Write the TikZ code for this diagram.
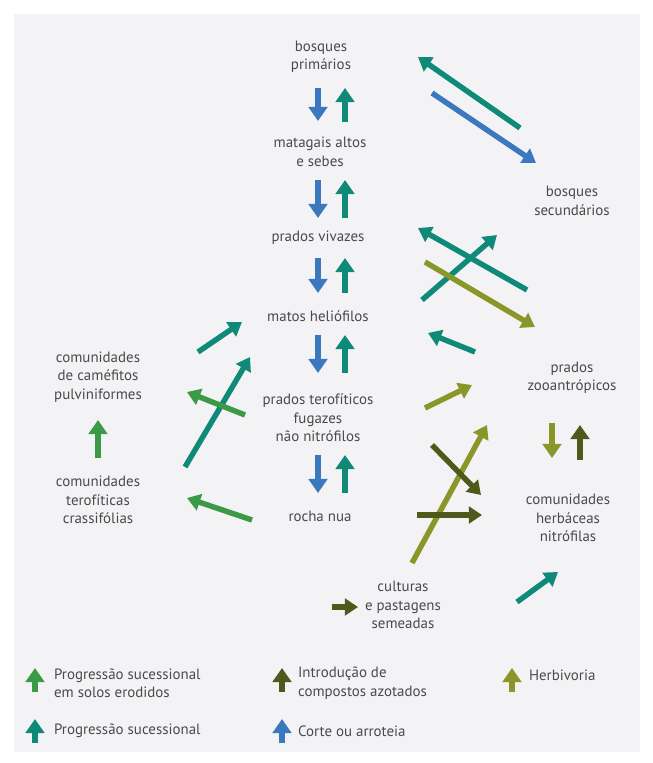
\documentclass[tikz,border=0pt]{standalone}
\usepackage{fontspec}
\setmainfont{PT Sans}
\usepackage{tikz}
\usetikzlibrary{arrows.meta,positioning,calc}
\usepackage{xcolor}
\definecolor{Teal}{HTML}{0F8A78}
\definecolor{Erod}{HTML}{3A9A45}
\definecolor{Azot}{HTML}{4E5A1C}
\definecolor{Herb}{HTML}{8A9628}
\definecolor{Corte}{HTML}{3C78BE}
\definecolor{Ink}{HTML}{4A4A4A}
\definecolor{Paper}{HTML}{F3F3F6}
\tikzset{
  habitat/.style={align=center, text=Ink, inner sep=1pt,
    font=\fontsize{8.5}{10.5}\selectfont},
  legtxt/.style={align=left, anchor=west, text=Ink, inner sep=1pt,
    font=\fontsize{8.5}{10.5}\selectfont},
  seta/.style={-{Triangle[length=7.5pt,width=9.5pt]}, line width=3.1pt, draw=#1},
  curta/.style={-{Triangle[length=8pt,width=10.5pt]}, line width=3.6pt, draw=#1},
}

\begin{document}
\begin{tikzpicture}[x=0.02cm,y=-0.02cm]
  \useasboundingbox (0,0) rectangle (652,763);
  \fill[Paper] (14,14) rectangle (640,752);

  % central series
  \node[habitat] (bp) at (321,57) {bosques\\primários};
  \node[habitat] (ma) at (320,152) {matagais altos\\e sebes};
  \node[habitat] (pv) at (318,238) {prados vivazes};
  \node[habitat] (mh) at (318,316) {matos heliófilos};
  \node[habitat] (pt) at (318,418) {prados terofíticos\\fugazes\\não nitrófilos};
  \node[habitat] (rn) at (320,516) {rocha nua};

  % right column
  \node[habitat] (bs) at (572,201) {bosques\\secundários};
  \node[habitat] (pz) at (572,378) {prados\\zooantrópicos};
  \node[habitat] (hn) at (568,518) {comunidades\\herbáceas\\nitrófilas};
  \node[habitat] (cp) at (403,605) {culturas\\e pastagens\\semeadas};

  % left column
  \node[habitat] (cc) at (98,377) {comunidades\\de caméfitos\\pulviniformes};
  \node[habitat] (ct) at (98,500) {comunidades\\terofíticas\\crassifólias};

  % vertical pairs
  \draw[curta=Corte] (318,88) -- (318,121);
  \draw[curta=Teal] (345,122) -- (345,88);
  \draw[curta=Corte] (318,180) -- (318,218);
  \draw[curta=Teal] (345,218) -- (345,180);
  \draw[curta=Corte] (318,258) -- (318,293);
  \draw[curta=Teal] (345,293) -- (345,258);
  \draw[curta=Corte] (318,335) -- (318,373);
  \draw[curta=Teal] (345,373) -- (345,335);
  \draw[curta=Corte] (318,455) -- (318,493);
  \draw[curta=Teal] (345,493) -- (345,455);
  \draw[curta=Herb] (552,423) -- (552,458);
  \draw[curta=Azot] (580,460) -- (580,425);
  \draw[curta=Erod] (98,458) -- (98,420);

  % diagonal connectors
  \coordinate (a1) at (520,128); \coordinate (b1) at (418,57);
  \coordinate (a2) at (432,93);  \coordinate (b2) at (536,163);
  \coordinate (a3) at (527,290); \coordinate (b3) at (418,228);
  \coordinate (a4) at (422,300); \coordinate (b4) at (497,235);
  \coordinate (a5) at (425,262); \coordinate (b5) at (535,327);
  \coordinate (a6) at (475,352); \coordinate (b6) at (428,333);
  \coordinate (a7) at (425,408); \coordinate (b7) at (472,385);
  \coordinate (a8) at (412,563); \coordinate (b8) at (487,425);
  \coordinate (a9) at (432,445); \coordinate (b9) at (481,495);
  \coordinate (a10) at (417,515); \coordinate (b10) at (482,515);
  \coordinate (a11) at (332,607); \coordinate (b11) at (358,607);
  \coordinate (a12) at (517,602); \coordinate (b12) at (558,572);
  \coordinate (a13) at (198,352); \coordinate (b13) at (242,322);
  \coordinate (a14) at (185,467); \coordinate (b14) at (250,357);
  \coordinate (a15) at (245,415); \coordinate (b15) at (187,392);
  \coordinate (a16) at (252,520); \coordinate (b16) at (187,498);

  \draw[seta=Teal] (a1) -- (b1);
  \draw[seta=Corte] (a2) -- (b2);
  \draw[seta=Teal] (a3) -- (b3);
  \draw[seta=Teal] (a4) -- (b4);
  \draw[seta=Herb] (a5) -- (b5);
  \draw[seta=Teal] (a6) -- (b6);
  \draw[seta=Herb] (a7) -- (b7);
  \draw[seta=Herb] (a8) -- (b8);
  \draw[seta=Azot] (a9) -- (b9);
  \draw[seta=Azot] (a10) -- (b10);
  \draw[seta=Azot] (a11) -- (b11);
  \draw[seta=Teal] (a12) -- (b12);
  \draw[seta=Teal] (a13) -- (b13);
  \draw[seta=Teal] (a14) -- (b14);
  \draw[seta=Erod] (a15) -- (b15);
  \draw[seta=Erod] (a16) -- (b16);

  % legend
  \coordinate (k1) at (35,692); \coordinate (k2) at (282,692);
  \coordinate (k3) at (512,692); \coordinate (k4) at (35,743);
  \coordinate (k5) at (282,743);
  \draw[curta=Erod] (k1) -- ++(0,-24);
  \draw[curta=Azot] (k2) -- ++(0,-24);
  \draw[curta=Herb] (k3) -- ++(0,-24);
  \draw[curta=Teal] (k4) -- ++(0,-24);
  \draw[curta=Corte] (k5) -- ++(0,-24);
  \node[legtxt] (t1) at (52,683) {Progressão sucessional\\em solos erodidos};
  \node[legtxt] (t2) at (296,683) {Introdução de\\compostos azotados};
  \node[legtxt] (t3) at (527,675) {Herbivoria};
  \node[legtxt] (t4) at (52,731) {Progressão sucessional};
  \node[legtxt] (t5) at (296,731) {Corte ou arroteia};
\end{tikzpicture}
\end{document}
